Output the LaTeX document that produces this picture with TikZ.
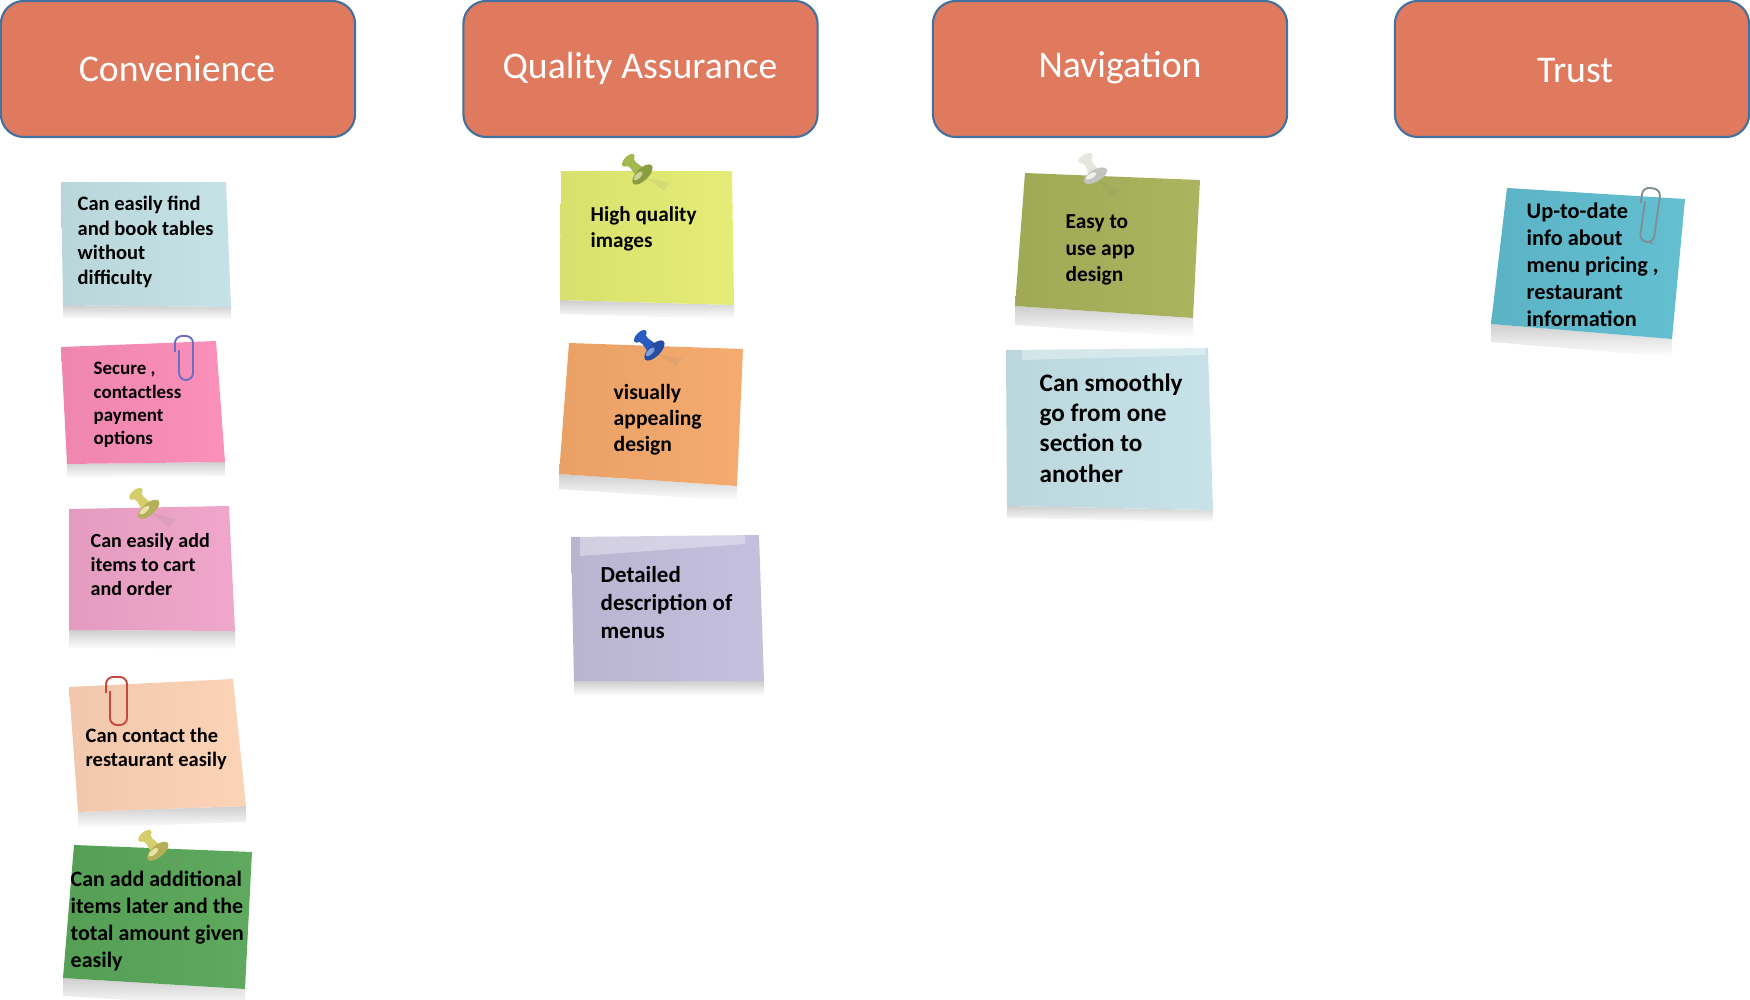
\documentclass[tikz,border=0pt]{standalone}
\usepackage{fontspec}
\usetikzlibrary{calc}
\setmainfont{Carlito}
\definecolor{headfill}{HTML}{DF7A5E}
\definecolor{headline}{HTML}{41719C}
\definecolor{tablesblue}{HTML}{C3E1E6}
\definecolor{paypink}{HTML}{FB8DB8}
\definecolor{cartpink}{HTML}{EFA4C9}
\definecolor{contactpeach}{HTML}{FDD2B5}
\definecolor{totalgreen}{HTML}{5AA75A}
\definecolor{imgyellow}{HTML}{E4EC73}
\definecolor{designorange}{HTML}{F5A96B}
\definecolor{menulilac}{HTML}{C2BEDC}
\definecolor{appolive}{HTML}{A8B25A}
\definecolor{stepsblue}{HTML}{C5E2E8}
\definecolor{infoteal}{HTML}{5FBDD0}
\definecolor{pinyellow}{HTML}{D6CE6A}
\definecolor{pingreen}{HTML}{A3B84E}
\definecolor{pinblue}{HTML}{2A5BC0}
\definecolor{pinwhite}{HTML}{E6E6E0}
\definecolor{clipviolet}{HTML}{6A6FC0}
\definecolor{clipred}{HTML}{C8483F}
\definecolor{clipgray}{HTML}{7F8F96}
\newcommand*{\q}[2]{\fontsize{#1}{#2}\selectfont\bfseries}
% sticky note: four corners, colour, lower end of its shadow
\newcommand*{\sticky}[6]{%
\shade[top color=gray!38,bottom color=white] (#4) -- (#3) -- ($(#3)+(0,#6)$) -- ($(#4)+(0,#6)$) -- cycle;
\shade[left color=#5!95!black,right color=#5!97!white] (#1) -- (#2) -- (#3) -- (#4) -- cycle;}
% push pin: position of its foot, lean, colour
\newcommand*{\pinat}[4]{%
\begin{scope}[shift={(#1,#2)},rotate=#3]
\fill[gray,opacity=.12] (0,0) -- (14,20) -- (4,22) -- cycle;
\fill[#4] (-5,-24) -- (5,-24) -- (4,-18) -- (6,-6) -- (-6,-6) -- (-4,-18) -- cycle;
\fill[#4] (0,-25) ellipse (8 and 4);
\fill[#4!85!black] (0,-5) ellipse (13 and 6);
\fill[#4!60!white] (-4,-7) ellipse (6 and 2.5);
\end{scope}}
% paper clip: top left corner, width, height, colour, lean
\newcommand*{\clipat}[6]{%
\begin{scope}[shift={(#1,#2)},rotate=#6]
\draw[#5,line width=.55pt,rounded corners=2pt] (4,14) -- (4,#4) -- (#3,#4) -- (#3,0) -- (0,0) -- (0,16);
\end{scope}}
\tikzset{
headbox/.style={draw=headline,line width=.6pt,fill=headfill,rounded corners=6.5pt,minimum width=3.54cm,minimum height=1.36cm,inner sep=0pt},
headtext/.style={text=white,font=\fontsize{10.72}{12}\selectfont,inner sep=0pt},
notetext/.style={anchor=west,align=left,inner sep=0pt,text=black}
}
\begin{document}
\begin{tikzpicture}[x=.01cm,y=-.01cm]
\useasboundingbox (0,0) rectangle (1750,1000);

\node[headbox] (conv) at (178,69) {};
\node[headbox] (qual) at (640.5,69) {};
\node[headbox] (navi) at (1110,69) {};
\node[headbox] (trust) at (1572,69) {};
\node[headtext] (convtext) at (177,69) {Convenience};
\node[headtext] (qualtext) at (640,68) {Quality Assurance};
\node[headtext] (navitext) at (1120,68) {Navigation};
\node[headtext] (trusttext) at (1575,71) {Trust};

\sticky{61,182}{226,182}{231,307}{63,305}{tablesblue}{13}
\sticky{61,347}{216,341}{225,462}{67,464}{paypink}{14}
\sticky{69,509}{229,506}{235,631}{69,630}{cartpink}{18}
\sticky{69,687}{233,679}{246,806}{78,812}{contactpeach}{16}
\sticky{74,845}{252,852}{245,989}{63,978}{totalgreen}{18}
\sticky{561,171}{732,171}{734,305}{560,300}{imgyellow}{14}
\sticky{569,343}{743,349}{737,486}{559,474}{designorange}{15}
\sticky{571,537}{759,535}{764,681}{574,681}{menulilac}{15}
\sticky{1025,173}{1200,180}{1193,318}{1015,306}{appolive}{19}
\sticky{1006,350}{1208,348}{1213,510}{1007,506}{stepsblue}{12}
\sticky{1507,188}{1685,199}{1672,339}{1491,324}{infoteal}{18}

\fill[white,opacity=.35] (580,533) -- (745,531) -- (745,544) -- (580,556) -- cycle;
\fill[white,opacity=.35] (1022,343) -- (1205,343) -- (1205,355) -- (1022,360) -- cycle;

\pinat{152}{513}{40}{pinyellow}
\pinat{161}{855}{40}{pinyellow}
\pinat{646}{178}{45}{pingreen}
\pinat{658}{354}{45}{pinblue}
\pinat{1098}{180}{30}{pinwhite}

\clipat{175}{336}{18}{44}{clipviolet}{0}
\clipat{106}{677}{21}{48}{clipred}{0}
\clipat{1643}{187}{18}{54}{clipgray}{-8}

\node[notetext,font={\q{5.83}{7.03}}] (tables) at (77,242) {Can easily find\\and book tables\\without\\difficulty};
\node[notetext,font={\q{5.39}{6.6}}] (pay) at (93,405) {Secure ,\\contactless\\payment\\options};
\node[notetext,font={\q{5.7}{6.83}}] (cart) at (90,565) {Can easily add\\items to cart\\and order};
\node[notetext,font={\q{5.82}{6.83}}] (contact) at (85,749) {Can contact the\\restaurant easily};
\node[notetext,font={\q{6.25}{7.6}}] (total) at (70,921) {Can add additional\\items later and the\\total amount given\\easily};
\node[notetext,font={\q{6.03}{7.4}}] (images) at (590,229) {High quality\\images};
\node[notetext,font={\q{6.15}{7.4}}] (appeal) at (613,420) {visually\\appealing\\design};
\node[notetext,font={\q{6.53}{7.96}}] (menus) at (600,603) {Detailed\\description of\\menus};
\node[notetext,font={\q{6.07}{7.54}}] (easy) at (1065,250) {Easy to\\use app\\design};
\node[notetext,font={\q{7.16}{8.6}}] (smooth) at (1039,428) {Can smoothly\\go from one\\section to\\another};
\node[notetext,font={\q{6.35}{7.68}}] (info) at (1526,265) {Up-to-date\\info about\\menu pricing ,\\restaurant\\information};
\end{tikzpicture}
\end{document}
